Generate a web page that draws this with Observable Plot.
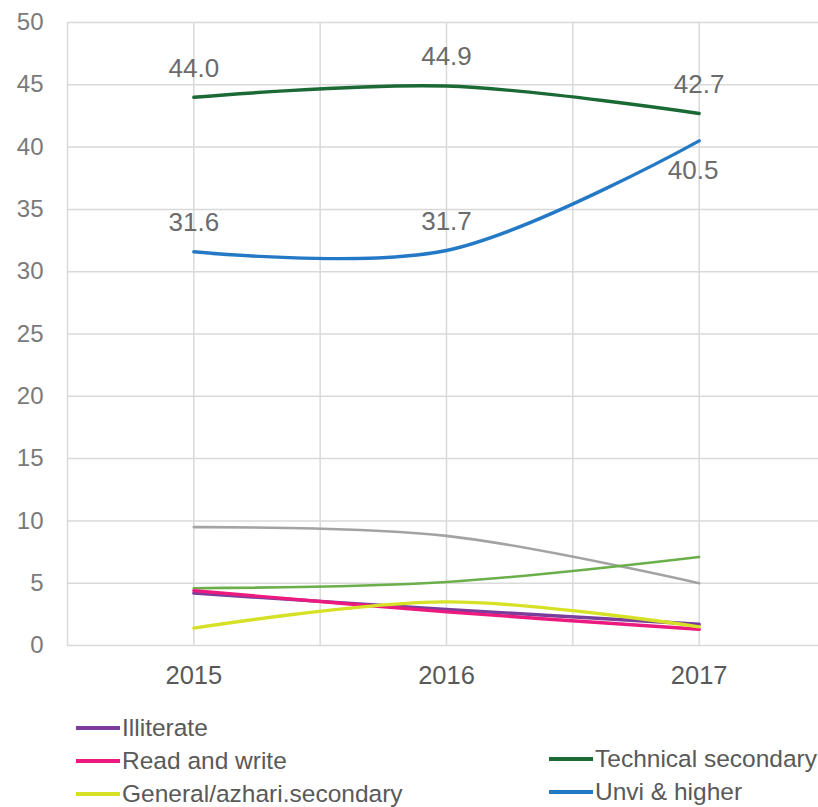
<!DOCTYPE html>
<html>
<head>
<meta charset="utf-8">
<script src="https://cdn.jsdelivr.net/npm/d3@7"></script>
<script src="https://cdn.jsdelivr.net/npm/@observablehq/plot@0.6"></script>
<style>
  html, body { margin: 0; padding: 0; background: #fff; }
  #wrap { position: relative; width: 818px; height: 807px; overflow: hidden; }
  #legend { position: absolute; left: 0; top: 0; width: 818px; height: 807px; pointer-events: none; }
  .item { position: absolute; display: flex; align-items: center; font-family: "Liberation Sans", Arial, sans-serif; font-size: 24.5px; color: #595959; white-space: nowrap; }
  .swatch { width: 44px; height: 4px; margin-right: 2px; }
</style>
</head>
<body>
<div id="wrap"><div id="chart"></div><div id="legend"></div></div>
<script>
const years = [2015, 2016, 2017];
const technicalSecondary = [44.0, 44.9, 42.7];
const unviHigher = [31.6, 31.7, 40.5];
const greySeries = [9.5, 8.8, 5.0];
const lightGreenSeries = [4.6, 5.1, 7.1];
const illiterate = [4.2, 2.9, 1.7];
const readWrite = [4.4, 2.7, 1.3];
const generalAzhari = [1.4, 3.5, 1.5];
const yTicks = [0, 5, 10, 15, 20, 25, 30, 35, 40, 45, 50];
const xGrid = [2014.5, 2015, 2015.5, 2016, 2016.5, 2017, 2017.5];

const series = [
  {name: "Unlabelled grey", values: greySeries, color: "#a3a3a3", width: 2.6, legend: false},
  {name: "Unlabelled green", values: lightGreenSeries, color: "#6aaf4a", width: 2.6, legend: false},
  {name: "Illiterate", values: illiterate, color: "#7a3d9c", width: 3.4, legend: true},
  {name: "Read and write", values: readWrite, color: "#ec1a7f", width: 3.4, legend: true},
  {name: "General/azhari.secondary", values: generalAzhari, color: "#d6e126", width: 3.4, legend: true},
  {name: "Technical secondary", values: technicalSecondary, color: "#1b6a36", width: 3.4, legend: true},
  {name: "Unvi & higher", values: unviHigher, color: "#2479c6", width: 3.4, legend: true}
];

const rows = series.flatMap(s => years.map((yr, i) => ({series: s.name, year: yr, value: s.values[i]})));
const labelled = rows.filter(d => d.series === "Technical secondary" || d.series === "Unvi & higher");
const below = d => d.series === "Unvi & higher" && d.year === 2017;

const font = "Liberation Sans, Arial, sans-serif";
const chart = Plot.plot({
  width: 818,
  height: 700,
  marginLeft: 67,
  marginRight: 0,
  marginTop: 22,
  marginBottom: 55,
  style: {fontFamily: font, background: "#fff", overflow: "visible"},
  x: {domain: [2014.5, 2017.5], range: [67, 825], axis: null},
  y: {domain: [0, 50], range: [645, 22], axis: null},
  marks: [
    Plot.ruleY(yTicks, {y: d => d, x1: 2014.5, x2: 2017.6, stroke: "#d9d9d9", strokeWidth: 1.5}),
    Plot.ruleX(xGrid, {x: d => d, y1: 0, y2: 50, stroke: "#d9d9d9", strokeWidth: 1.5}),
    Plot.axisY(yTicks, {tickSize: 0, tickPadding: 24, fontSize: 24, fill: "#7a7a7a", label: null}),
    Plot.axisX(years, {tickSize: 0, tickPadding: 20, fontSize: 25.5, fill: "#595959", tickFormat: d => String(d), label: null}),
    ...series.map(s => Plot.line(rows.filter(d => d.series === s.name), {x: "year", y: "value", stroke: s.color, strokeWidth: s.width, curve: "catmull-rom"})),
    Plot.text(labelled.filter(d => !below(d)), {x: "year", y: "value", text: d => d.value.toFixed(1), dy: -29, fontSize: 26, fill: "#6b6b6b", fontFamily: font}),
    Plot.text(labelled.filter(below), {x: "year", y: "value", text: d => d.value.toFixed(1), dy: 30, dx: -6, fontSize: 26, fill: "#6b6b6b", fontFamily: font})
  ]
});
document.getElementById("chart").appendChild(chart);

const legendPos = {
  "Illiterate": [76, 728],
  "Read and write": [76, 761],
  "General/azhari.secondary": [76, 794],
  "Technical secondary": [549, 759],
  "Unvi & higher": [549, 792]
};
const leg = document.getElementById("legend");
series.filter(s => s.legend).forEach(s => {
  const [lx, ly] = legendPos[s.name];
  const el = document.createElement("div");
  el.className = "item";
  el.style.left = lx + "px";
  el.style.top = (ly - 15) + "px";
  el.style.height = "30px";
  el.innerHTML = `<span class="swatch" style="background:${s.color}"></span><span></span>`;
  el.lastChild.textContent = s.name;
  leg.appendChild(el);
});
</script>
</body>
</html>
